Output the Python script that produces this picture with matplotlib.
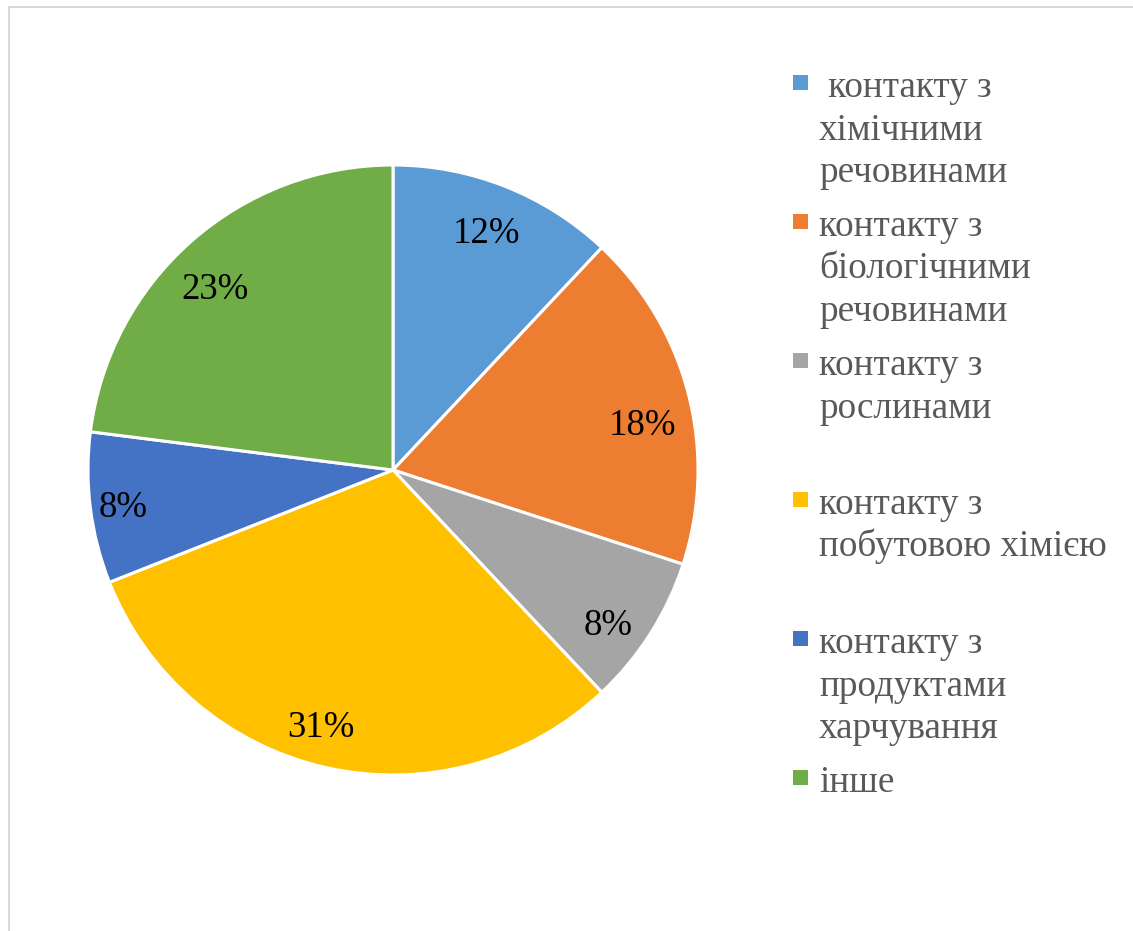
import matplotlib
matplotlib.use("Agg")
import matplotlib.pyplot as plt
from matplotlib.patches import Rectangle

# shares of each contact type, %
shares = [12, 18, 8, 31, 8, 23]
colors = ["#5B9BD5", "#ED7D31", "#A5A5A5", "#FFC000", "#4472C4", "#70AD47"]
# legend entries, already wrapped into lines
labels = [
    [" контакту з", "хімічними", "речовинами"],
    ["контакту з", "біологічними", "речовинами"],
    ["контакту з", "рослинами"],
    ["контакту з", "побутовою хімією"],
    ["контакту з", "продуктами", "харчування"],
    ["інше"],
]

W, H = 1133, 931
cx, cy, R = 393, 470, 305  # pie centre and radius, px
# visual centres of the percentage labels, px
label_px = [(487, 231), (643, 423), (608, 623), (321, 725), (123, 505), (215, 287)]

fig = plt.figure(figsize=(W / 100, H / 100), dpi=100)
plt.rcParams["font.family"] = ["Liberation Serif", "DejaVu Serif"]

# light frame around the chart area
fig.patches.append(Rectangle((9 / W, -0.1), 1.2, 1.1 - 7 / H,
                             transform=fig.transFigure, fill=False,
                             edgecolor="#d9d9d9", linewidth=1.5))

ax = fig.add_axes([(cx - R) / W, 1 - (cy + R) / H, 2 * R / W, 2 * R / H])
wedges, texts, autotexts = ax.pie(
    shares, colors=colors, startangle=90, counterclock=False,
    autopct="%1.0f%%", pctdistance=0.85,
    wedgeprops=dict(edgecolor="white", linewidth=2.2),
    textprops=dict(fontsize=26.5, color="black"))
ax.set_xlim(-1, 1)
ax.set_ylim(-1, 1)
ax.set_aspect("equal")
for w in wedges:
    w.set_clip_on(False)
for t, (px, py) in zip(autotexts, label_px):
    t.set_position(((px - cx) / R, (cy - py - 12) / R))
    t.set_va("baseline")

# legend: square marker plus wrapped text, three line slots per entry
x_box, x_text = 793, 819
y0, slot, line_h = 97, 139, 42.5
for i, lines in enumerate(labels):
    base = y0 + i * slot
    fig.patches.append(Rectangle((x_box / W, 1 - (base - 7) / H), 15 / W, 15 / H,
                                 transform=fig.transFigure,
                                 facecolor=colors[i], edgecolor="none"))
    for j, line in enumerate(lines):
        fig.text(x_text / W, 1 - (base + j * line_h) / H, line,
                 fontsize=26.7, color="#595959", va="baseline", ha="left")

fig.savefig("out.png", dpi=100)
